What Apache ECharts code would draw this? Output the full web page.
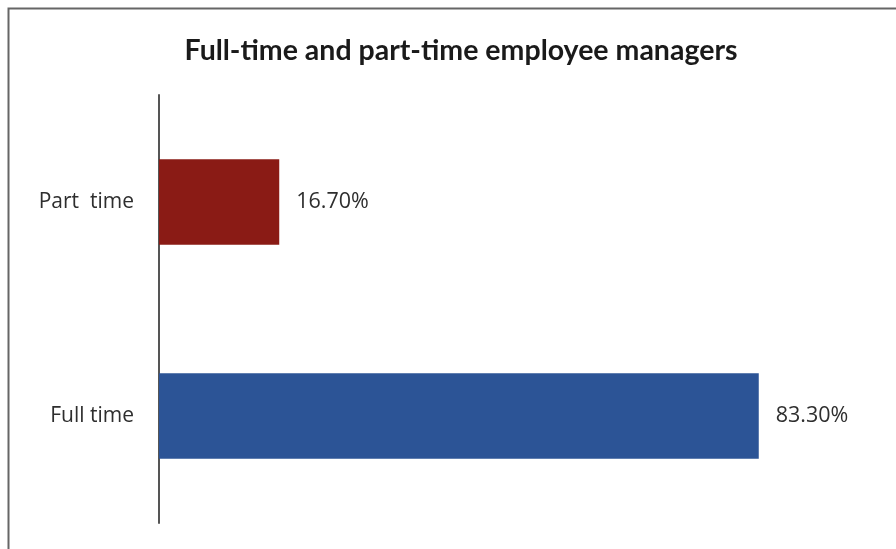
<!DOCTYPE html>
<html>
<head>
<meta charset="utf-8">
<script src="https://cdn.jsdelivr.net/npm/echarts@6/dist/echarts.min.js"></script>
<style>
  html, body { margin: 0; padding: 0; background: #fff; }
  #chart { width: 896px; height: 549px; }
</style>
</head>
<body>
<div id="chart"></div>
<script>
// Share of managers by employment type (percent)
const categories = ['Full time', 'Part  time'];
const shares = [83.3, 16.7];
const barColors = ['#2c5496', '#8a1b15'];

const chart = echarts.init(document.getElementById('chart'));
chart.setOption({
  backgroundColor: '#ffffff',
  animation: false,
  title: {
    text: 'Full-time and part-time employee managers',
    left: 456,
    textAlign: 'center',
    top: 31,
    textStyle: {
      fontFamily: 'Lato',
      fontWeight: 'bold',
      fontSize: 28.5,
      color: '#1a1a1a'
    }
  },
  graphic: [{
    type: 'rect',
    shape: { x: 8.5, y: 8.5, width: 900, height: 560 },
    style: { fill: 'none', stroke: '#666', lineWidth: 2 },
    silent: true
  }],
  grid: { left: 159, right: 17, top: 95, bottom: 26, containLabel: false },
  xAxis: {
    type: 'value',
    min: 0,
    max: 100,
    show: false
  },
  yAxis: {
    type: 'category',
    data: categories,
    axisLine: { show: true, lineStyle: { color: '#555', width: 2 } },
    axisTick: { show: false },
    axisLabel: {
      fontFamily: 'Open Sans',
      fontSize: 21,
      color: '#2e2e2e',
      margin: 25
    }
  },
  series: [{
    type: 'bar',
    barWidth: '40%',
    data: shares.map((v, i) => ({ value: v, itemStyle: { color: barColors[i] } })),
    label: {
      show: true,
      position: 'right',
      distance: 17,
      fontFamily: 'Open Sans',
      fontSize: 21.5,
      color: '#2e2e2e',
      formatter: p => p.value.toFixed(2) + '%'
    }
  }]
});
</script>
</body>
</html>
